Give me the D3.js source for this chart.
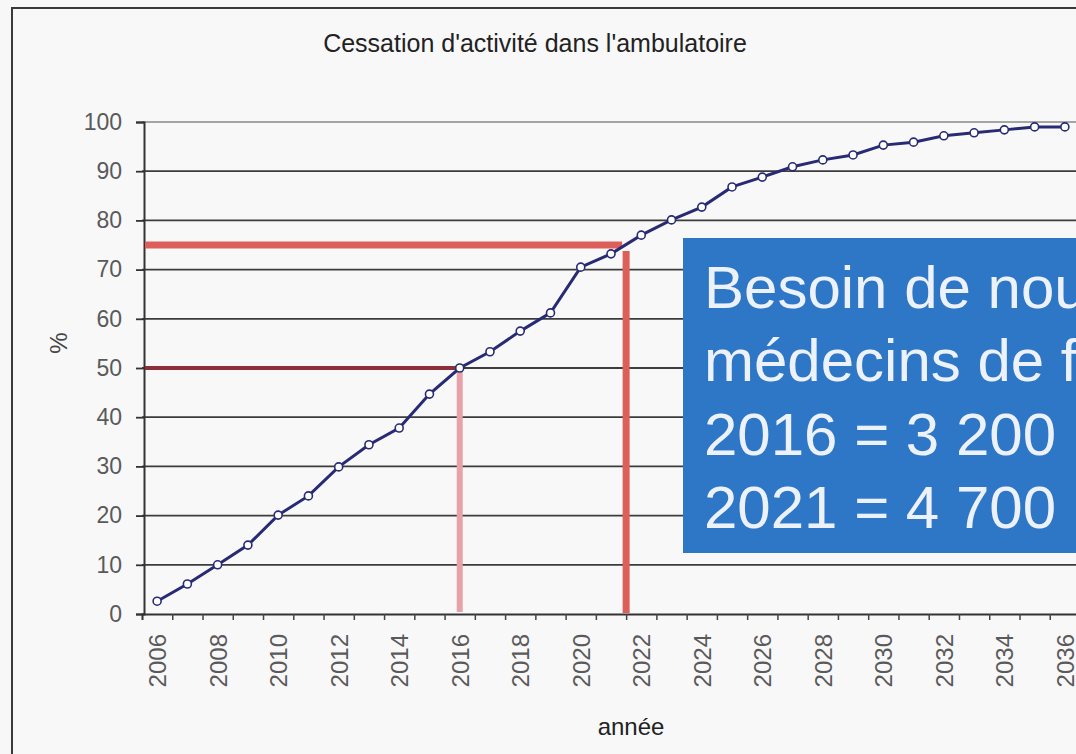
<!DOCTYPE html>
<html>
<head>
<meta charset="utf-8">
<script src="https://cdn.jsdelivr.net/npm/d3@7"></script>
<style>
  html, body { margin: 0; padding: 0; background: #f7f7f8; overflow: hidden; }
  svg { display: block; font-family: "Liberation Sans", Arial, sans-serif; }
</style>
</head>
<body>
<script>
// cessation d'activite - courbe cumulée

let w = 1076;
let h = 754;

let years = d3.range(2006, 2037);
let values = [2.6, 6.1, 10.0, 14.0, 20.1, 24.0, 29.9, 34.4, 37.8, 44.7,
    50.0, 53.3, 57.5, 61.2, 70.5, 73.2, 77.0, 80.1, 82.7, 86.8,
    88.8, 90.9, 92.3, 93.3, 95.3, 95.9, 97.2, 97.8, 98.4, 99.0, 99.0];
let yTicks = [0, 10, 20, 30, 40, 50, 60, 70, 80, 90, 100];
let xLabels = d3.range(2006, 2037, 2);

// repères : 50 % en 2016, 75 % vers 2021
let markYears = [2016, 2021.5];
let markValues = [50, 75];

let boxLines = ['Besoin de nouveaux', 'médecins de famille', '2016 = 3 200', '2021 = 4 700'];

let data = years.map((y, i) => ({ year: y, value: values[i] }));

let svg = d3.select('body').append('svg').attr('width', w).attr('height', h);

// cadre
svg.append('rect')
    .attr('x', 12).attr('y', 8)
    .attr('width', 1200).attr('height', 900)
    .attr('fill', '#f8f8f9')
    .attr('stroke', '#3a3a3a')
    .attr('stroke-width', 2);

let x = d3.scaleLinear().domain([2005.5, 2036.5]).range([142, 1080]);
let y = d3.scaleLinear().domain([0, 100]).range([614, 122]);

// grille
svg.append('g')
    .selectAll('line')
    .data(yTicks.filter(d => d > 0))
    .enter()
    .append('line')
    .attr('x1', x(2005.5))
    .attr('x2', w + 20)
    .attr('y1', d => y(d))
    .attr('y2', d => y(d))
    .attr('stroke', d => d == 100 ? '#8a8a8a' : '#3c3c3c')
    .attr('stroke-width', d => d == 100 ? 1.3 : 1.8);

// axes
let yAxis = svg.append('g')
    .attr('transform', `translate(${x(2005.5) + 2},0)`)
    .call(d3.axisLeft(y).tickValues(yTicks).tickSize(8).tickPadding(14));
yAxis.select('.domain').attr('stroke', '#333').attr('stroke-width', 2);
yAxis.selectAll('line').attr('stroke', '#333').attr('stroke-width', 1.8);
yAxis.selectAll('text')
    .attr('font-size', '23px')
    .attr('fill', '#5a5a5a')
    .attr('font-family', '"Liberation Sans", Arial, sans-serif');

let bounds = d3.range(2006.5, 2037, 1);
let xAxis = svg.append('g')
    .attr('transform', `translate(0,${y(0)})`)
    .call(d3.axisBottom(x).tickValues(bounds).tickSize(6).tickFormat(''));
xAxis.select('.domain').attr('stroke', '#333').attr('stroke-width', 2);
xAxis.selectAll('line').attr('stroke', '#444').attr('stroke-width', 1.5);

let xLab = svg.append('g')
    .attr('transform', `translate(0,${y(0)})`)
    .call(d3.axisBottom(x).tickValues(xLabels).tickSize(0).tickFormat(d3.format('d')));
xLab.select('.domain').remove();
xLab.selectAll('text')
    .attr('transform', 'rotate(-90)')
    .attr('x', -20)
    .attr('y', 0)
    .attr('dy', '0.35em')
    .attr('text-anchor', 'end')
    .attr('font-size', '24px')
    .attr('fill', '#5a5a5a')
    .attr('font-family', '"Liberation Sans", Arial, sans-serif');

// lignes de repère
svg.append('line')
    .attr('x1', x(2005.5) + 3).attr('x2', x(markYears[0]))
    .attr('y1', y(markValues[0])).attr('y2', y(markValues[0]))
    .attr('stroke', '#8c2f3a').attr('stroke-width', 4);
svg.append('line')
    .attr('x1', x(markYears[0])).attr('x2', x(markYears[0]))
    .attr('y1', y(markValues[0])).attr('y2', y(0) - 2)
    .attr('stroke', '#e8a0a9').attr('stroke-width', 6);
svg.append('line')
    .attr('x1', x(2005.5) + 3).attr('x2', x(markYears[1]) - 4)
    .attr('y1', y(markValues[1])).attr('y2', y(markValues[1]))
    .attr('stroke', '#dd5f5a').attr('stroke-width', 7);
svg.append('line')
    .attr('x1', x(markYears[1])).attr('x2', x(markYears[1]))
    .attr('y1', y(markValues[1]) + 6).attr('y2', y(0) - 1)
    .attr('stroke', '#dd5f5a').attr('stroke-width', 7);

// courbe
let line = d3.line().x(d => x(d.year)).y(d => y(d.value));

svg.append('path')
    .datum(data)
    .attr('d', line)
    .attr('fill', 'none')
    .attr('stroke', '#282b74')
    .attr('stroke-width', 3);

svg.selectAll('circle')
    .data(data)
    .enter()
    .append('circle')
    .attr('cx', d => x(d.year))
    .attr('cy', d => y(d.value))
    .attr('r', 4)
    .attr('fill', '#ffffff')
    .attr('stroke', '#282b74')
    .attr('stroke-width', 1.6);

// titres
svg.append('text')
    .text("Cessation d'activité dans l'ambulatoire")
    .attr('x', 535).attr('y', 52)
    .attr('text-anchor', 'middle')
    .attr('font-size', '25px')
    .attr('fill', '#222');

svg.append('text')
    .text('année')
    .attr('x', 631).attr('y', 735)
    .attr('text-anchor', 'middle')
    .attr('font-size', '24px')
    .attr('fill', '#222');

svg.append('text')
    .text('%')
    .attr('transform', 'translate(67,343) rotate(-90)')
    .attr('text-anchor', 'middle')
    .attr('font-size', '24px')
    .attr('fill', '#444');

// encadré bleu
svg.append('rect')
    .attr('x', 683).attr('y', 238)
    .attr('width', 500).attr('height', 315)
    .attr('fill', '#2e77c6');

svg.selectAll('.box-line')
    .data(boxLines)
    .enter()
    .append('text')
    .attr('class', 'box-line')
    .text(d => d)
    .attr('x', 704)
    .attr('y', (d, i) => 308 + i * 73.4)
    .attr('font-size', '60px')
    .attr('fill', '#edf2fa');
</script>
</body>
</html>
